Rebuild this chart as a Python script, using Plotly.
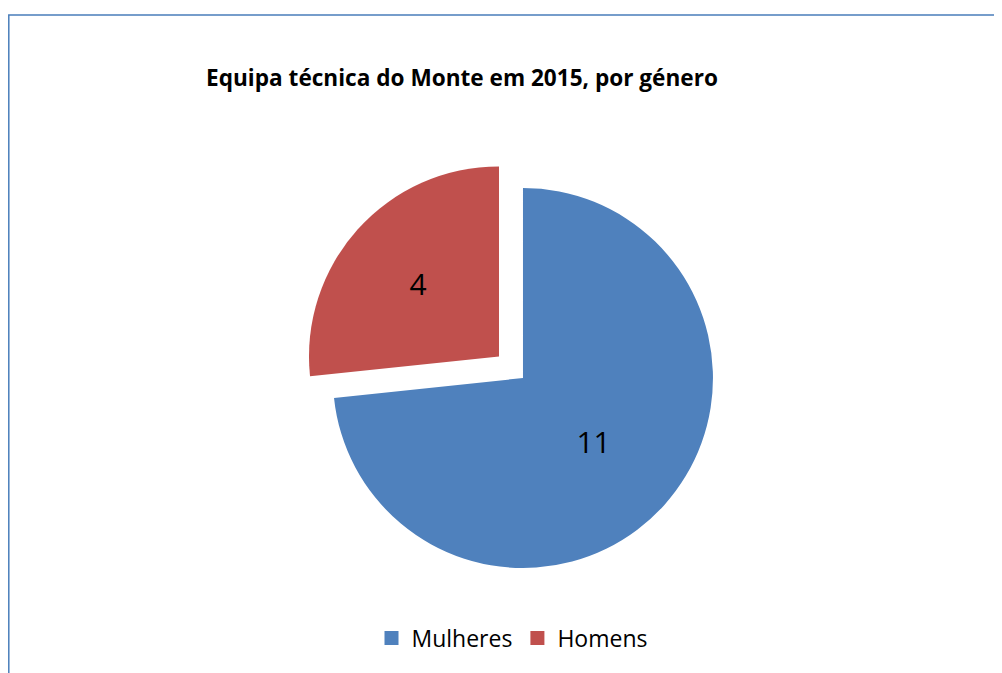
import plotly.graph_objects as go

labels = ["Mulheres", "Homens"]
values = [11, 4]
colors = ["#4F81BD", "#C0504D"]
pulls = [0, 0.17]
title_text = "Equipa técnica do Monte em 2015, por género"

W, H = 1002, 673
OFF = 8  # page body margin offset

fig = go.Figure()
fig.add_trace(go.Pie(
    labels=labels,
    values=values,
    marker=dict(colors=colors, line=dict(width=0)),
    pull=pulls,
    sort=False,
    direction="clockwise",
    rotation=0,
    textinfo="value",
    textposition="inside",
    insidetextorientation="horizontal",
    textfont=dict(family="Open Sans", size=30, color="#000000"),
    domain=dict(x=[0.2921, 0.7358], y=[0.1199, 0.7805]),
    hoverinfo="label+value",
    showlegend=False,
))

# legend entries with square swatches
for name, col in zip(labels, colors):
    fig.add_trace(go.Scatter(
        x=[None], y=[None], mode="markers", name=name,
        marker=dict(symbol="square", size=14, color=col, line=dict(width=0)),
        hoverinfo="skip",
    ))

fig.update_layout(
    width=W, height=H,
    margin=dict(l=0, r=0, t=0, b=0),
    paper_bgcolor="white",
    plot_bgcolor="white",
    font=dict(family="Open Sans", color="#000000"),
    xaxis=dict(visible=False),
    yaxis=dict(visible=False),
    title=dict(text="<b>" + title_text + "</b>", x=(462 - OFF) / W, xanchor="center",
               y=1 - (78 - OFF) / H, yanchor="middle",
               font=dict(family="Open Sans", size=22.6, color="#000000")),
    legend=dict(orientation="h", x=(512 - OFF) / W, xanchor="center",
                y=1 - (638 - OFF) / H, yanchor="middle",
                font=dict(family="Open Sans", size=23, color="#000000"),
                itemwidth=30, traceorder="normal", itemclick=False, itemdoubleclick=False),
    shapes=[dict(type="rect", xref="paper", yref="paper",
                 x0=0.8 / W, x1=1.05, y0=-0.05, y1=1 - 7 / H,
                 line=dict(color="#4A7EBB", width=1.5), fillcolor="rgba(0,0,0,0)")],
)

fig.write_html("out.html")
